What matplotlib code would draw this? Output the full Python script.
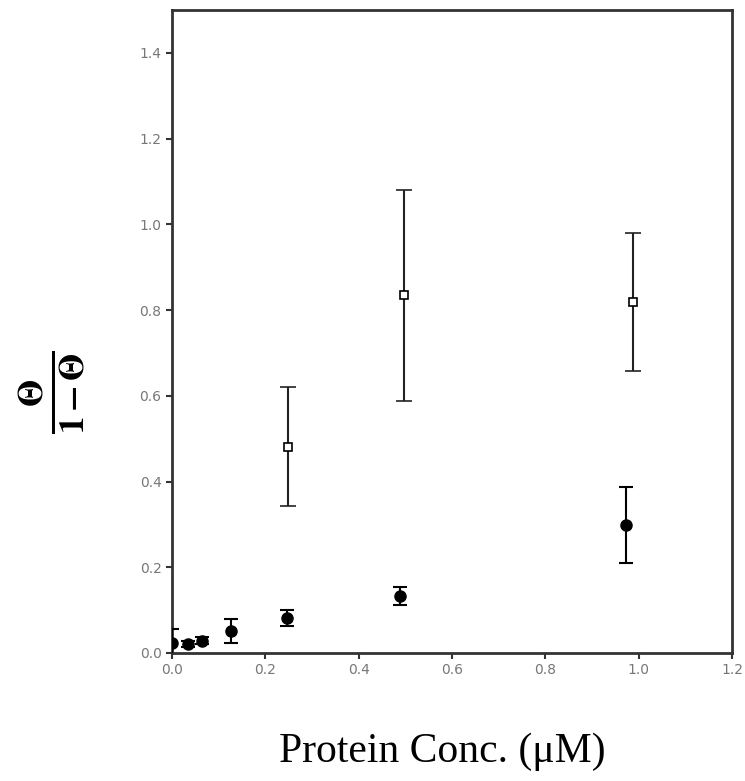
import matplotlib
matplotlib.use("Agg")
import matplotlib.pyplot as plt

# filled circles
x_fill = [0.0, 0.034, 0.064, 0.127, 0.246, 0.489, 0.972]
y_fill = [0.023, 0.021, 0.029, 0.052, 0.082, 0.133, 0.299]
e_fill = [0.033, 0.008, 0.008, 0.028, 0.018, 0.022, 0.088]

# open squares
x_open = [0.249, 0.497, 0.988]
y_open = [0.481, 0.835, 0.819]
e_open = [0.139, 0.246, 0.16]

xticks = [0.0, 0.2, 0.4, 0.6, 0.8, 1.0, 1.2]
yticks = [0.0, 0.2, 0.4, 0.6, 0.8, 1.0, 1.2, 1.4]

fig = plt.figure(figsize=(7.45, 7.81), dpi=100)
ax = fig.add_axes([172/745, 1-653/781, (732-172)/745, (653-10)/781])

ax.errorbar(x_fill, y_fill, yerr=e_fill, fmt='o', color='black', ms=8,
            ecolor='black', elinewidth=1.5, capsize=5, capthick=1.5, zorder=3)
ax.errorbar(x_open, y_open, yerr=e_open, fmt='s', mfc='white', mec='black', ms=6,
            mew=1.2, ecolor='#222222', elinewidth=1.5, capsize=6, capthick=1.5, zorder=3)

ax.set_xlim(0, 1.2)
ax.set_ylim(0, 1.5)
ax.set_xticks(xticks)
ax.set_yticks(yticks)
ax.set_xticklabels([f"{v:.1f}" for v in xticks])
ax.set_yticklabels([f"{v:.1f}" for v in yticks])
for s in ax.spines.values():
    s.set_color('#333333')
    s.set_linewidth(2)
ax.tick_params(direction='out', length=4, width=1.5, color='#333333',
               labelcolor='#777777', labelsize=10)
for lab in ax.get_xticklabels() + ax.get_yticklabels():
    lab.set_fontfamily(['Liberation Sans Narrow', 'DejaVu Sans'])

fig.text((280+605)/2/745, 1-752/781, 'Protein Conc. (\u03bcM)', ha='center', va='center',
         fontsize=30, family=['Liberation Serif', 'DejaVu Serif'])
plt.rcParams['mathtext.fontset'] = 'stix'
fig.text(52/745, 1-392/781, r'$\mathbf{\frac{\Theta}{1-\Theta}}$', rotation=90,
         ha='center', va='center', fontsize=36)

fig.savefig('out.png', dpi=100)
